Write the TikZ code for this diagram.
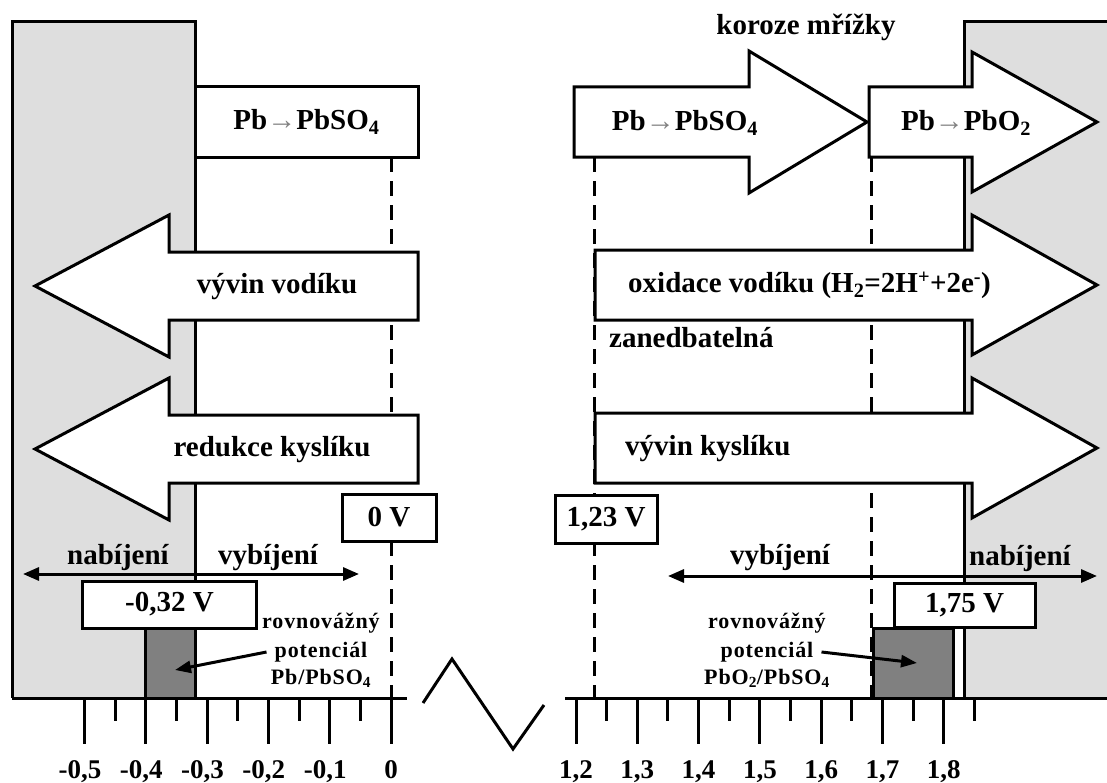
\documentclass[tikz,border=0pt]{standalone}
\usepackage{fontspec}
\setmainfont{Liberation Serif}
\newfontfamily\notefont[LetterSpace=4]{Liberation Serif}
\usetikzlibrary{arrows.meta}

% fat arrow: tail x, head base x, tip x, centre y, half shaft, half head
\newcommand{\fatarrow}[6]{%
  \draw[outl, fill=white] (#1,#4-#5) -- (#2,#4-#5) -- (#2,#4-#6) -- (#3,#4)
    -- (#2,#4+#6) -- (#2,#4+#5) -- (#1,#4+#5) -- cycle;}

\begin{document}
\begin{tikzpicture}[x=1bp, y=-1bp,
    outl/.style={draw, line width=3bp},
    plate/.style={fill=black!13},
    dark/.style={draw, line width=3bp, fill=black!50},
    vbox/.style={draw, fill=white, line width=3bp, inner sep=0pt, font=\fontsize{29bp}{34bp}\selectfont\bfseries},
    txt/.style={inner sep=0pt, font=\fontsize{29bp}{34bp}\selectfont\bfseries},
    note/.style={inner sep=0pt, font=\fontsize{22bp}{24bp}\notefont\bfseries},
    num/.style={inner sep=0pt, font=\fontsize{27bp}{30bp}\selectfont\bfseries},
    dashln/.style={line width=3bp, dash pattern=on 15bp off 9bp},
    tickmark/.style={line width=3bp},
    dir/.style={line width=3bp, {Triangle[length=16bp,width=13bp]}-{Triangle[length=16bp,width=13bp]}},
    ptr/.style={line width=3bp, -{Triangle[length=16bp,width=12bp]}}
]
\useasboundingbox (0,0) rectangle (1107,783);

% electrodes
\fill[plate] (12,22) rectangle (195,698);
\draw[outl] (12,698) -- (12,22) -- (195,22) -- (195,698);
\fill[plate] (964,22) rectangle (1107,698);
\draw[outl] (964,698) -- (964,22) -- (1107,22);

% potential lines
\draw[dashln] (391,157) -- (391,698);
\draw[dashln] (594,157) -- (594,703);
\draw[dashln] (871,157) -- (871,703);

% reactions
\fatarrow{418}{169}{35}{286}{34}{71}
\fatarrow{418}{169}{35}{449}{34}{71}
\fatarrow{574}{749}{867}{122}{35}{71}
\fatarrow{869}{972}{1097}{122}{35}{70}
\fatarrow{595}{972}{1097}{285}{35}{70}
\fatarrow{595}{972}{1097}{448}{35}{70}

\node[vbox, minimum width=223bp, minimum height=70bp] (pbL) at (306.5,122) {Pb\textcolor{gray}{→}PbSO\textsubscript{4}};
\node[txt] (pbR) at (685,123) {Pb\textcolor{gray}{→}PbSO\textsubscript{4}};
\node[txt] (pbO) at (966,123) {Pb\textcolor{gray}{→}PbO\textsubscript{2}};
\node[txt] (koroze) at (806,27) {koroze mřížky};
\node[txt] (vodik) at (277,287) {vývin vodíku};
\node[txt] (redukce) at (272,450) {redukce kyslíku};
\node[txt, anchor=west] (oxid) at (628,285) {oxidace vodíku (H\textsubscript{2}=2H\textsuperscript{+}+2e\textsuperscript{-})};
\node[txt, anchor=west] (zaned) at (609,338) {zanedbatelná};
\node[txt, anchor=west] (kyslik) at (625,449) {vývin kyslíku};

% potentials
\node[vbox, minimum width=94bp, minimum height=47bp] (v0) at (389,517.5) {0 V};
\node[vbox, minimum width=102bp, minimum height=48bp] (v123) at (606,519) {1,23 V};
\node[vbox, minimum width=173bp, minimum height=47bp] (vm032) at (169.5,604.5) {-0,32 V};
\node[vbox, minimum width=141bp, minimum height=44bp] (v175) at (964.5,605) {1,75 V};

\draw[dark] (145,628) rectangle (195,698);
\draw[dark] (873,628) rectangle (953,698);

% charge / discharge
\coordinate (dirL1) at (23,574);
\coordinate (dirL2) at (359,574);
\coordinate (dirR1) at (668,576);
\coordinate (dirR2) at (1097,576);
\draw[dir] (dirL1) -- (dirL2);
\draw[dir] (dirR1) -- (dirR2);
\node[txt] (nabL) at (118,558) {nabíjení};
\node[txt] (vybL) at (268,558) {vybíjení};
\node[txt] (vybR) at (780,558) {vybíjení};
\node[txt] (nabR) at (1020,559) {nabíjení};

% equilibrium potentials
\node[note] (rovL1) at (321,623) {rovnovážný};
\node[note] (rovL2) at (321,652) {potenciál};
\node[note] (rovL3) at (321,678) {Pb/PbSO\textsubscript{4}};
\node[note] (rovR1) at (767,623) {rovnovážný};
\node[note] (rovR2) at (767,652) {potenciál};
\node[note] (rovR3) at (767,678) {PbO\textsubscript{2}/PbSO\textsubscript{4}};
\coordinate (tipL) at (175,670);
\coordinate (tipR) at (917,663);
\draw[ptr] ([xshift=-8bp]rovL2.west) -- (tipL);
\draw[ptr] ([xshift=8bp]rovR2.east) -- (tipR);

% axis
\draw[outl] (12,698) -- (407,698);
\draw[outl] (565,698) -- (1107,698);
\draw[outl] (423,703) -- (452,659) -- (513,749) -- (544,705);
\foreach \i in {0,...,5}
  \draw[tickmark] (391-61.3*\i,698) -- (391-61.3*\i,744);
\foreach \i in {0,...,4}
  \draw[tickmark] (360.35-61.3*\i,698) -- (360.35-61.3*\i,721);
\foreach \i in {0,...,6}
  \draw[tickmark] (576+61.3*\i,698) -- (576+61.3*\i,744);
\foreach \i in {0,...,6}
  \draw[tickmark] (606.65+61.3*\i,698) -- (606.65+61.3*\i,721);
\node[num, anchor=base] (n0) at (391,778) {0};
\foreach \lab [count=\i] in {{-0,1},{-0,2},{-0,3},{-0,4},{-0,5}}
  \node[num, anchor=base east] (nl\i) at (391+17-61.3*\i,778) {\lab};
\foreach \lab [count=\i from 0] in {{1,2},{1,3},{1,4},{1,5},{1,6},{1,7},{1,8}}
  \node[num, anchor=base] (nr\i) at (576+61.3*\i,778) {\lab};
\end{tikzpicture}
\end{document}
